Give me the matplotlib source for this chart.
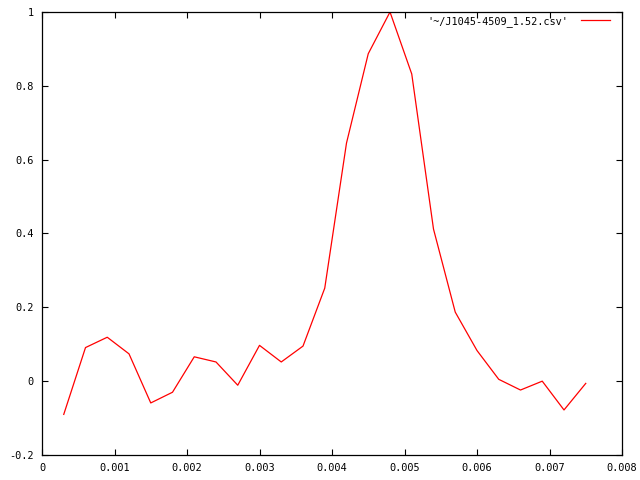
import matplotlib
matplotlib.use("Agg")
import matplotlib.pyplot as plt
from matplotlib.ticker import FixedLocator, FixedFormatter

# values (gnuplot-style output)
x_vals = [0.0003 * k for k in range(1, 26)]
y_vals = [-0.090, 0.091, 0.119, 0.074, -0.059, -0.030, 0.066, 0.052, -0.011,
          0.097, 0.052, 0.095, 0.252, 0.645, 0.887, 1.000, 0.832, 0.412,
          0.187, 0.083, 0.005, -0.024, 0.000, -0.078, -0.006]
series_label = "'~/J1045-4509_1.52.csv'"

x_ticks = [0, 0.001, 0.002, 0.003, 0.004, 0.005, 0.006, 0.007, 0.008]
x_labels = ["0", "0.001", "0.002", "0.003", "0.004", "0.005", "0.006", "0.007", "0.008"]
y_ticks = [-0.2, 0, 0.2, 0.4, 0.6, 0.8, 1]
y_labels = ["-0.2", "0", "0.2", "0.4", "0.6", "0.8", "1"]

plt.rcParams["font.family"] = "DejaVu Sans Mono"
plt.rcParams["axes.unicode_minus"] = False

fig = plt.figure(figsize=(6.4, 4.8), dpi=100)
ax = fig.add_axes([42 / 640, 25 / 480, 580 / 640, 443 / 480])

ax.plot(x_vals, y_vals, color="#ff0000", lw=0.9, label=series_label)

ax.set_xlim(0, 0.008)
ax.set_ylim(-0.2, 1)
ax.xaxis.set_major_locator(FixedLocator(x_ticks))
ax.xaxis.set_major_formatter(FixedFormatter(x_labels))
ax.yaxis.set_major_locator(FixedLocator(y_ticks))
ax.yaxis.set_major_formatter(FixedFormatter(y_labels))
ax.tick_params(direction="in", length=4, width=0.8, labelsize=7.4, pad=6,
               top=True, right=True, colors="black")
for sp in ax.spines.values():
    sp.set_linewidth(0.9)

leg = ax.legend(loc="upper right", frameon=False, markerfirst=False,
                fontsize=7.4, handlelength=2.8, handletextpad=1.3,
                borderaxespad=0, borderpad=0.3,
                bbox_to_anchor=(0.985, 0.998))

fig.savefig("out.png", dpi=100)
